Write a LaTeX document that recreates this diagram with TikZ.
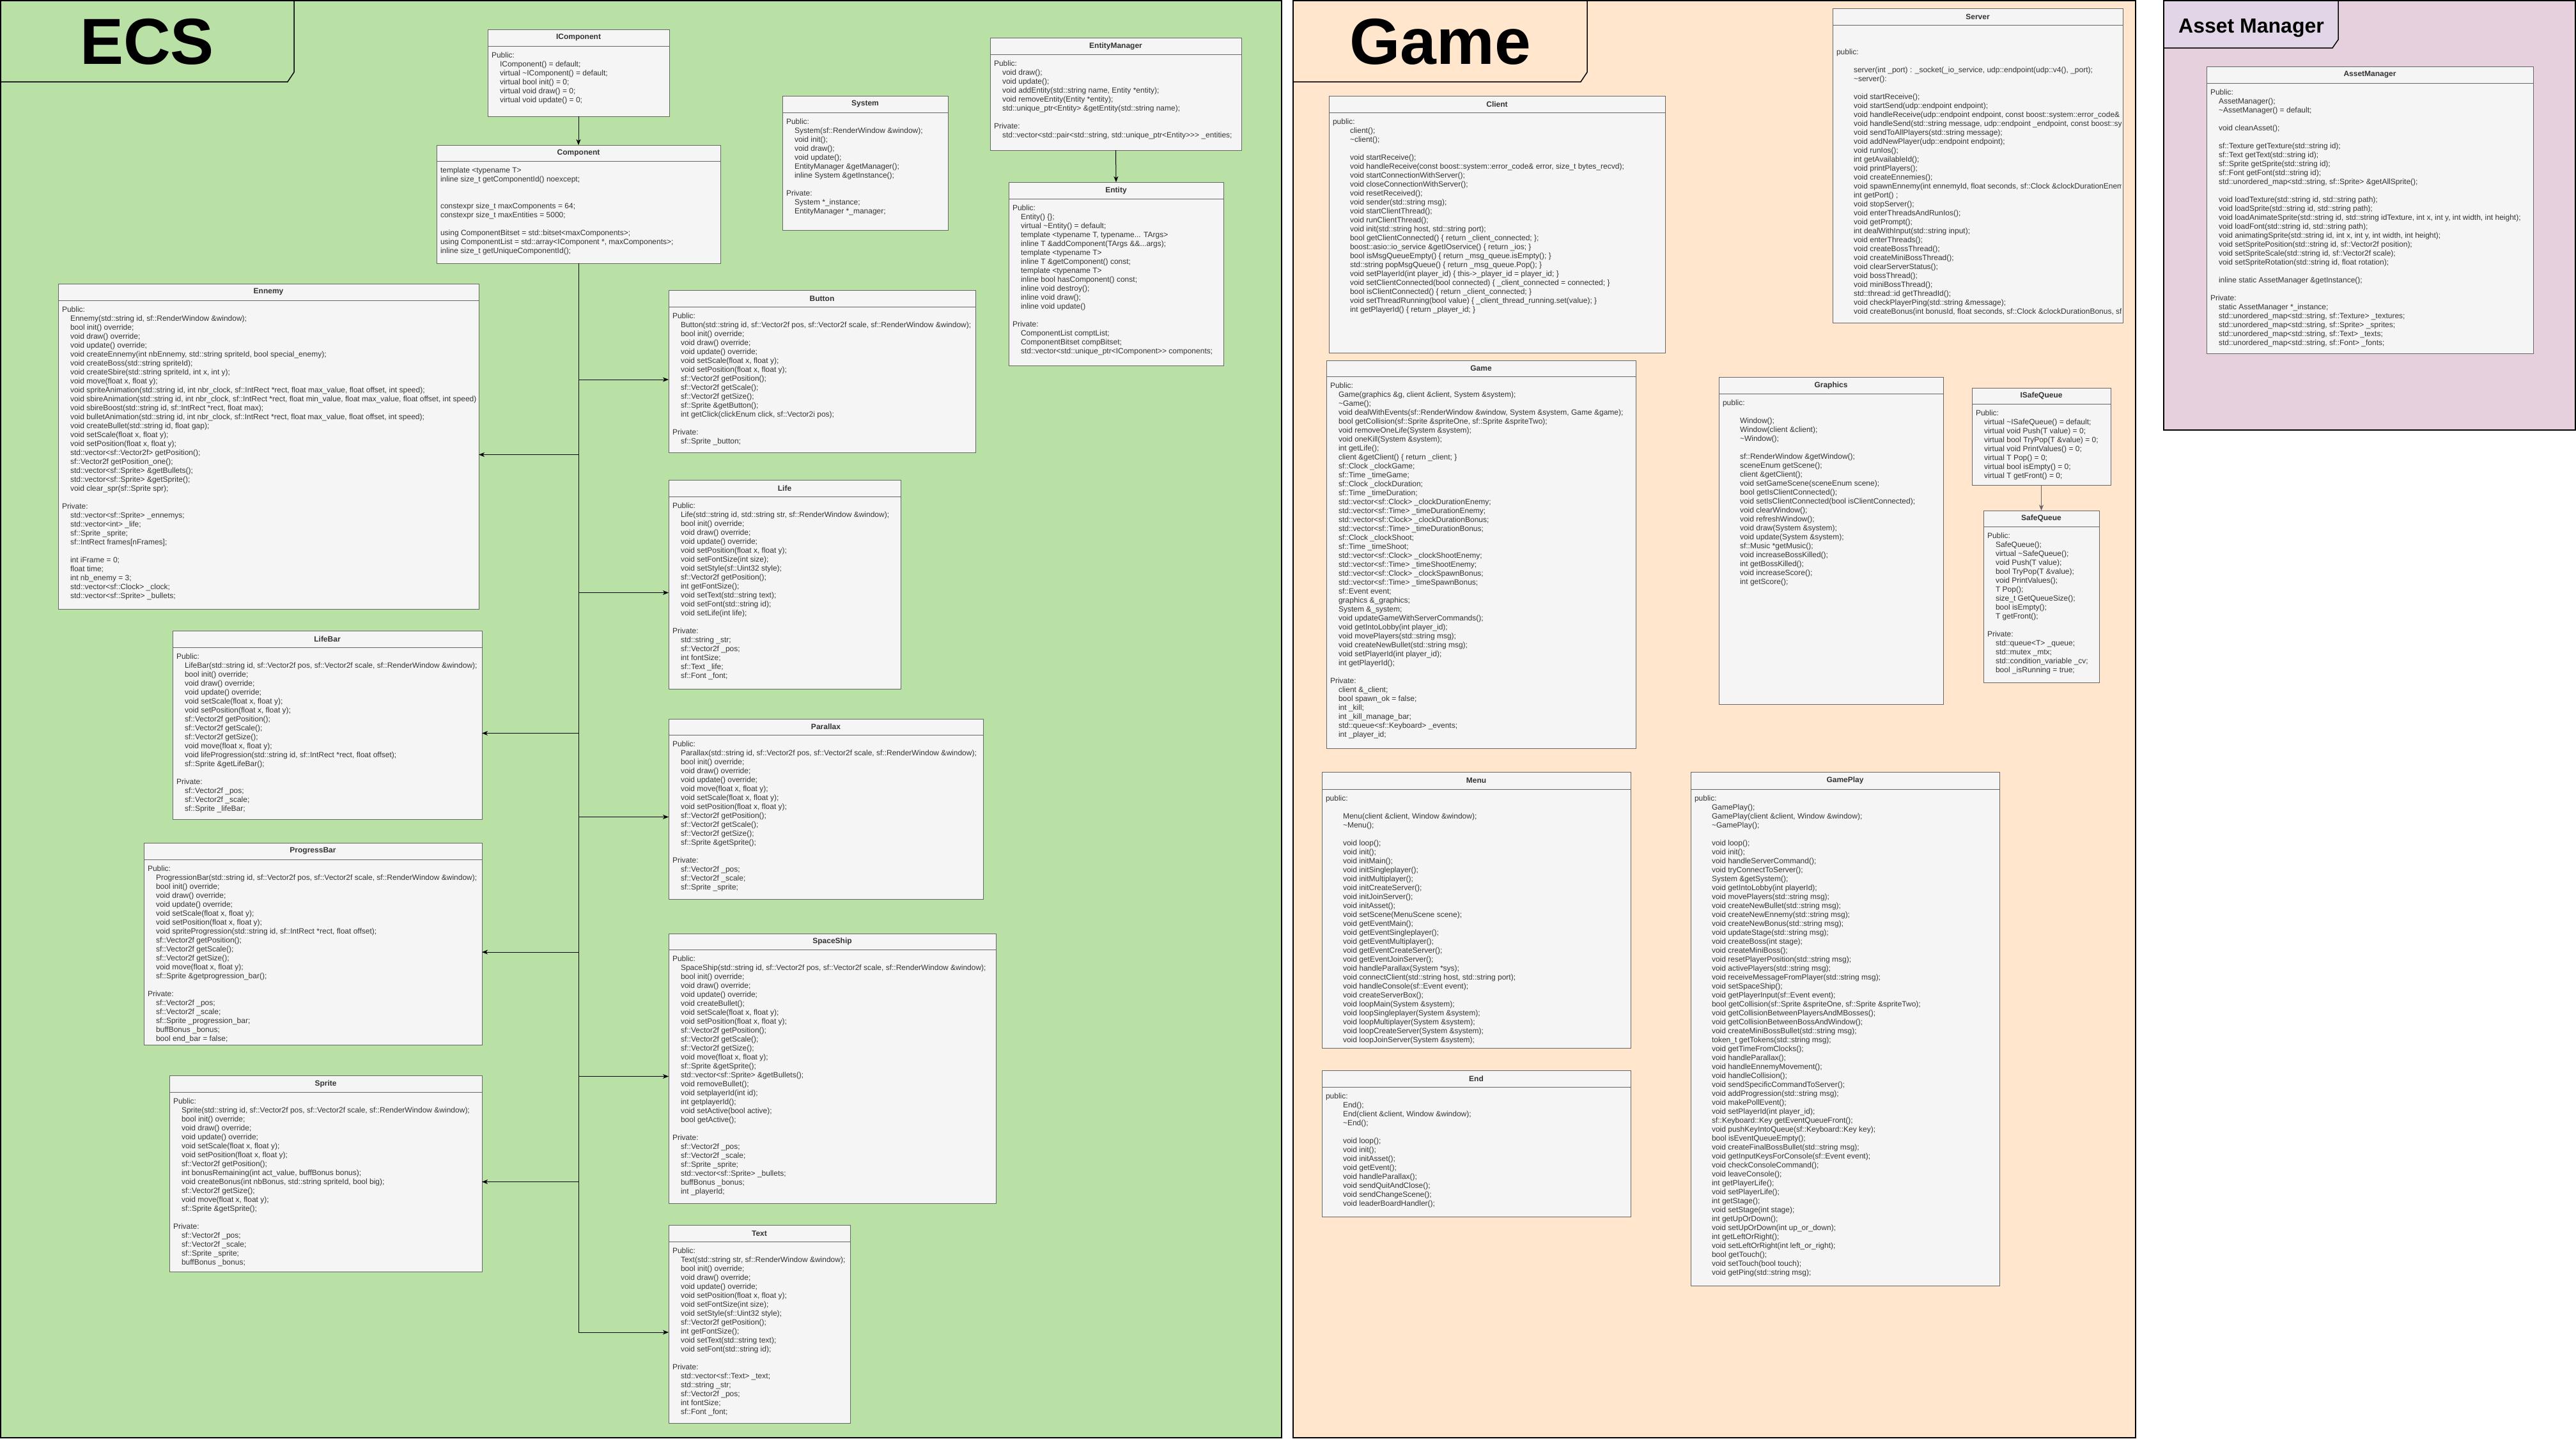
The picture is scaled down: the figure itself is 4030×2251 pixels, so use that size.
\documentclass[tikz,border=0pt]{standalone}
\usepackage{fontspec}
\setmainfont{Liberation Sans}
\usetikzlibrary{arrows.meta}
\definecolor{ecsg}{HTML}{B9E0A5}
\definecolor{gameo}{HTML}{FFE6CC}
\definecolor{assetp}{HTML}{E6D0DE}
\definecolor{assett}{HTML}{E1D5E7}
\definecolor{boxf}{HTML}{F5F5F5}
\definecolor{boxd}{HTML}{666666}
\definecolor{txtc}{HTML}{333333}
\newcommand\ia{\hspace*{13pt}}
\newcommand\ib{\hspace*{27pt}}
\newcommand\tld{\textasciitilde}
\tikzset{
  clsbox/.style={draw=boxd, fill=boxf, line width=1pt, inner sep=0pt, outer sep=0pt},
  hdrtxt/.style={font=\bfseries\fontsize{12}{14}\selectfont, text=txtc},
  bodytxt/.style={anchor=north west, inner sep=0pt, outer sep=0pt, align=left, font=\fontsize{12}{14}\selectfont, text=txtc},
  panel/.style={draw=black, line width=1.5pt},
  bigtitle/.style={font=\bfseries\fontsize{102}{110}\selectfont, text=black, inner sep=0pt},
  arr/.style={-{Stealth[length=9pt,width=7pt,inset=2.5pt]}, line width=1pt, draw=black},
  arrgray/.style={-{Stealth[length=9pt,width=7pt,inset=2.5pt]}, line width=1pt, draw=boxd, fill=boxd},
}
% #1 name, #2 x1, #3 y1, #4 x2, #5 y2, #6 header bottom, #7 title, #8 body
\newcommand\cls[8]{%
  \pgfmathsetmacro\qqw{#4-#2}\pgfmathsetmacro\qqh{#6-#3}\pgfmathsetmacro\qqb{#5-#6}%
  \pgfmathsetmacro\qqx{(#2+#4)/2}\pgfmathsetmacro\qqy{(#3+#6)/2}\pgfmathsetmacro\qqz{(#6+#5)/2}%
  \node[clsbox, hdrtxt, minimum width=\qqw pt, minimum height=\qqh pt] (#1h) at (\qqx,\qqy) {#7};
  \node[clsbox, minimum width=\qqw pt, minimum height=\qqb pt] (#1) at (\qqx,\qqz) {};
  \begin{scope}
    \clip (#2,#6) rectangle (#4-3,#5);
    \node[bodytxt] (#1t) at (#2+6,#6+8.5) {\strut#8};
  \end{scope}
}
\begin{document}
\begin{tikzpicture}[x=1pt,y=-1pt]
\useasboundingbox (0,0) rectangle (4030,2251);
% panels
\draw[panel, fill=ecsg] (1,1) rectangle (2005,2250);
\draw[panel, fill=gameo] (2023,1) rectangle (3341,2250);
\draw[panel, fill=assetp] (3385,1) rectangle (4029,673);
\draw[panel, fill=ecsg] (1,1) -- (460,1) -- (460,113) -- (450,128) -- (1,128) -- cycle;
\draw[panel, fill=gameo] (2023,1) -- (2483,1) -- (2483,113) -- (2473,128) -- (2023,128) -- cycle;
\draw[panel, fill=assett] (3385,1) -- (3658,1) -- (3658,62) -- (3649,75) -- (3385,75) -- cycle;
\node[bigtitle, anchor=base] (ecstitle) at (230,100) {ECS};
\node[bigtitle, anchor=base] (gametitle) at (2253,100) {Game};
\node[font=\bfseries\fontsize{32}{36}\selectfont, inner sep=0pt, anchor=base west] (assettitle) at (3408,51) {Asset Manager};

% ECS classes
\cls{icomp}{763}{46}{1047}{182}{72}{IComponent}{Public:\\
\ia IComponent() = default;\\
\ia virtual \tld IComponent() = default;\\
\ia virtual bool init() = 0;\\
\ia virtual void draw() = 0;\\
\ia virtual void update() = 0;}

\cls{comp}{683}{227}{1127}{412}{252}{Component}{template <typename T>\\
inline size\_t getComponentId() noexcept;\\
\strut\\
\strut\\
constexpr size\_t maxComponents = 64;\\
constexpr size\_t maxEntities = 5000;\\
\strut\\
using ComponentBitset = std::bitset<maxComponents>;\\
using ComponentList = std::array<IComponent *, maxComponents>;\\
inline size\_t getUniqueComponentId();}

\cls{sys}{1224}{150}{1483}{360}{176}{System}{Public:\\
\ia System(sf::RenderWindow \&window);\\
\ia void init();\\
\ia void draw();\\
\ia void update();\\
\ia EntityManager \&getManager();\\
\ia inline System \&getInstance();\\
\strut\\
Private:\\
\ia System *\_instance;\\
\ia EntityManager *\_manager;}

\cls{emgr}{1549}{59}{1942}{235}{85}{EntityManager}{Public:\\
\ia void draw();\\
\ia void update();\\
\ia void addEntity(std::string name, Entity *entity);\\
\ia void removeEntity(Entity *entity);\\
\ia std::unique\_ptr<Entity> \&getEntity(std::string name);\\
\strut\\
Private:\\
\ia std::vector<std::pair<std::string, std::unique\_ptr<Entity>\kern0pt>\kern0pt> \_entities;}

\cls{ent}{1578}{285}{1914}{572}{311}{Entity}{Public:\\
\ia Entity() \{\};\\
\ia virtual \tld Entity() = default;\\
\ia template <typename T, typename... TArgs>\\
\ia inline T \&addComponent(TArgs \&\&...args);\\
\ia template <typename T>\\
\ia inline T \&getComponent() const;\\
\ia template <typename T>\\
\ia inline bool hasComponent() const;\\
\ia inline void destroy();\\
\ia inline void draw();\\
\ia inline void update()\\
\strut\\
Private:\\
\ia ComponentList comptList;\\
\ia ComponentBitset compBitset;\\
\ia std::vector<std::unique\_ptr<IComponent>\kern0pt> components;}

\cls{enn}{91}{444}{749}{953}{470}{Ennemy}{Public:\\
\ia Ennemy(std::string id, sf::RenderWindow \&window);\\
\ia bool init() override;\\
\ia void draw() override;\\
\ia void update() override;\\
\ia void createEnnemy(int nbEnnemy, std::string spriteId, bool special\_enemy);\\
\ia void createBoss(std::string spriteId);\\
\ia void createSbire(std::string spriteId, int x, int y);\\
\ia void move(float x, float y);\\
\ia void spriteAnimation(std::string id, int nbr\_clock, sf::IntRect *rect, float max\_value, float offset, int speed);\\
\ia void sbireAnimation(std::string id, int nbr\_clock, sf::IntRect *rect, float min\_value, float max\_value, float offset, int speed)\\
\ia void sbireBoost(std::string id, sf::IntRect *rect, float max);\\
\ia void bulletAnimation(std::string id, int nbr\_clock, sf::IntRect *rect, float max\_value, float offset, int speed);\\
\ia void createBullet(std::string id, float gap);\\
\ia void setScale(float x, float y);\\
\ia void setPosition(float x, float y);\\
\ia std::vector<sf::Vector2f> getPosition();\\
\ia sf::Vector2f getPosition\_one();\\
\ia std::vector<sf::Sprite> \&getBullets();\\
\ia std::vector<sf::Sprite> \&getSprite();\\
\ia void clear\_spr(sf::Sprite spr);\\
\strut\\
Private:\\
\ia std::vector<sf::Sprite> \_ennemys;\\
\ia std::vector<int> \_life;\\
\ia sf::Sprite \_sprite;\\
\ia sf::IntRect frames[nFrames];\\
\strut\\
\ia int iFrame = 0;\\
\ia float time;\\
\ia int nb\_enemy = 3;\\
\ia std::vector<sf::Clock> \_clock;\\
\ia std::vector<sf::Sprite> \_bullets;}

\cls{btn}{1046}{454}{1526}{708}{480}{Button}{Public:\\
\ia Button(std::string id, sf::Vector2f pos, sf::Vector2f scale, sf::RenderWindow \&window);\\
\ia bool init() override;\\
\ia void draw() override;\\
\ia void update() override;\\
\ia void setScale(float x, float y);\\
\ia void setPosition(float x, float y);\\
\ia sf::Vector2f getPosition();\\
\ia sf::Vector2f getScale();\\
\ia sf::Vector2f getSize();\\
\ia sf::Sprite \&getButton();\\
\ia int getClick(clickEnum click, sf::Vector2i pos);\\
\strut\\
Private:\\
\ia sf::Sprite \_button;}

\cls{life}{1046}{751}{1409}{1078}{777}{Life}{Public:\\
\ia Life(std::string id, std::string str, sf::RenderWindow \&window);\\
\ia bool init() override;\\
\ia void draw() override;\\
\ia void update() override;\\
\ia void setPosition(float x, float y);\\
\ia void setFontSize(int size);\\
\ia void setStyle(sf::Uint32 style);\\
\ia sf::Vector2f getPosition();\\
\ia int getFontSize();\\
\ia void setText(std::string text);\\
\ia void setFont(std::string id);\\
\ia void setLife(int life);\\
\strut\\
Private:\\
\ia std::string \_str;\\
\ia sf::Vector2f \_pos;\\
\ia int fontSize;\\
\ia sf::Text \_life;\\
\ia sf::Font \_font;}

\cls{plx}{1046}{1125}{1538}{1407}{1150}{Parallax}{Public:\\
\ia Parallax(std::string id, sf::Vector2f pos, sf::Vector2f scale, sf::RenderWindow \&window);\\
\ia bool init() override;\\
\ia void draw() override;\\
\ia void update() override;\\
\ia void move(float x, float y);\\
\ia void setScale(float x, float y);\\
\ia void setPosition(float x, float y);\\
\ia sf::Vector2f getPosition();\\
\ia sf::Vector2f getScale();\\
\ia sf::Vector2f getSize();\\
\ia sf::Sprite \&getSprite();\\
\strut\\
Private:\\
\ia sf::Vector2f \_pos;\\
\ia sf::Vector2f \_scale;\\
\ia sf::Sprite \_sprite;}

\cls{ship}{1046}{1461}{1558}{1883}{1486}{SpaceShip}{Public:\\
\ia SpaceShip(std::string id, sf::Vector2f pos, sf::Vector2f scale, sf::RenderWindow \&window);\\
\ia bool init() override;\\
\ia void draw() override;\\
\ia void update() override;\\
\ia void createBullet();\\
\ia void setScale(float x, float y);\\
\ia void setPosition(float x, float y);\\
\ia sf::Vector2f getPosition();\\
\ia sf::Vector2f getScale();\\
\ia sf::Vector2f getSize();\\
\ia void move(float x, float y);\\
\ia sf::Sprite \&getSprite();\\
\ia std::vector<sf::Sprite> \&getBullets();\\
\ia void removeBullet();\\
\ia void setplayerId(int id);\\
\ia int getplayerId();\\
\ia void setActive(bool active);\\
\ia bool getActive();\\
\strut\\
Private:\\
\ia sf::Vector2f \_pos;\\
\ia sf::Vector2f \_scale;\\
\ia sf::Sprite \_sprite;\\
\ia std::vector<sf::Sprite> \_bullets;\\
\ia buffBonus \_bonus;\\
\ia int \_playerId;}

\cls{text}{1046}{1917}{1330}{2227}{1943}{Text}{Public:\\
\ia Text(std::string str, sf::RenderWindow \&window);\\
\ia bool init() override;\\
\ia void draw() override;\\
\ia void update() override;\\
\ia void setPosition(float x, float y);\\
\ia void setFontSize(int size);\\
\ia void setStyle(sf::Uint32 style);\\
\ia sf::Vector2f getPosition();\\
\ia int getFontSize();\\
\ia void setText(std::string text);\\
\ia void setFont(std::string id);\\
\strut\\
Private:\\
\ia std::vector<sf::Text> \_text;\\
\ia std::string \_str;\\
\ia sf::Vector2f \_pos;\\
\ia int fontSize;\\
\ia sf::Font \_font;}

\cls{lbar}{270}{987}{754}{1282}{1013}{LifeBar}{Public:\\
\ia LifeBar(std::string id, sf::Vector2f pos, sf::Vector2f scale, sf::RenderWindow \&window);\\
\ia bool init() override;\\
\ia void draw() override;\\
\ia void update() override;\\
\ia void setScale(float x, float y);\\
\ia void setPosition(float x, float y);\\
\ia sf::Vector2f getPosition();\\
\ia sf::Vector2f getScale();\\
\ia sf::Vector2f getSize();\\
\ia void move(float x, float y);\\
\ia void lifeProgression(std::string id, sf::IntRect *rect, float offset);\\
\ia sf::Sprite \&getLifeBar();\\
\strut\\
Private:\\
\ia sf::Vector2f \_pos;\\
\ia sf::Vector2f \_scale;\\
\ia sf::Sprite \_lifeBar;}

\cls{pbar}{225}{1319}{754}{1635}{1345}{ProgressBar}{Public:\\
\ia ProgressionBar(std::string id, sf::Vector2f pos, sf::Vector2f scale, sf::RenderWindow \&window);\\
\ia bool init() override;\\
\ia void draw() override;\\
\ia void update() override;\\
\ia void setScale(float x, float y);\\
\ia void setPosition(float x, float y);\\
\ia void spriteProgression(std::string id, sf::IntRect *rect, float offset);\\
\ia sf::Vector2f getPosition();\\
\ia sf::Vector2f getScale();\\
\ia sf::Vector2f getSize();\\
\ia void move(float x, float y);\\
\ia sf::Sprite \&getprogression\_bar();\\
\strut\\
Private:\\
\ia sf::Vector2f \_pos;\\
\ia sf::Vector2f \_scale;\\
\ia sf::Sprite \_progression\_bar;\\
\ia buffBonus \_bonus;\\
\ia bool end\_bar = false;}

\cls{spr}{265}{1683}{754}{1990}{1709}{Sprite}{Public:\\
\ia Sprite(std::string id, sf::Vector2f pos, sf::Vector2f scale, sf::RenderWindow \&window);\\
\ia bool init() override;\\
\ia void draw() override;\\
\ia void update() override;\\
\ia void setScale(float x, float y);\\
\ia void setPosition(float x, float y);\\
\ia sf::Vector2f getPosition();\\
\ia int bonusRemaining(int act\_value, buffBonus bonus);\\
\ia void createBonus(int nbBonus, std::string spriteId, bool big);\\
\ia sf::Vector2f getSize();\\
\ia void move(float x, float y);\\
\ia sf::Sprite \&getSprite();\\
\strut\\
Private:\\
\ia sf::Vector2f \_pos;\\
\ia sf::Vector2f \_scale;\\
\ia sf::Sprite \_sprite;\\
\ia buffBonus \_bonus;}

% Game classes
\cls{cli}{2079}{150}{2605}{552}{176}{Client}{public:\\
\ib client();\\
\ib \tld client();\\
\strut\\
\ib void startReceive();\\
\ib void handleReceive(const boost::system::error\_code\& error, size\_t bytes\_recvd);\\
\ib void startConnectionWithServer();\\
\ib void closeConnectionWithServer();\\
\ib void resetReceived();\\
\ib void sender(std::string msg);\\
\ib void startClientThread();\\
\ib void runClientThread();\\
\ib void init(std::string host, std::string port);\\
\ib bool getClientConnected() \{ return \_client\_connected; \};\\
\ib boost::asio::io\_service \&getIOservice() \{ return \_ios; \}\\
\ib bool isMsgQueueEmpty() \{ return \_msg\_queue.isEmpty(); \}\\
\ib std::string popMsgQueue() \{ return \_msg\_queue.Pop(); \}\\
\ib void setPlayerId(int player\_id) \{ this->\_player\_id = player\_id; \}\\
\ib void setClientConnected(bool connected) \{ \_client\_connected = connected; \}\\
\ib bool isClientConnected() \{ return \_client\_connected; \}\\
\ib void setThreadRunning(bool value) \{ \_client\_thread\_running.set(value); \}\\
\ib int getPlayerId() \{ return \_player\_id; \}}

\cls{game}{2075}{564}{2559}{1171}{589}{Game}{Public:\\
\ia Game(graphics \&g, client \&client, System \&system);\\
\ia \tld Game();\\
\ia void dealWithEvents(sf::RenderWindow \&window, System \&system, Game \&game);\\
\ia bool getCollision(sf::Sprite \&spriteOne, sf::Sprite \&spriteTwo);\\
\ia void removeOneLife(System \&system);\\
\ia void oneKill(System \&system);\\
\ia int getLife();\\
\ia client \&getClient() \{ return \_client; \}\\
\ia sf::Clock \_clockGame;\\
\ia sf::Time \_timeGame;\\
\ia sf::Clock \_clockDuration;\\
\ia sf::Time \_timeDuration;\\
\ia std::vector<sf::Clock> \_clockDurationEnemy;\\
\ia std::vector<sf::Time> \_timeDurationEnemy;\\
\ia std::vector<sf::Clock> \_clockDurationBonus;\\
\ia std::vector<sf::Time> \_timeDurationBonus;\\
\ia sf::Clock \_clockShoot;\\
\ia sf::Time \_timeShoot;\\
\ia std::vector<sf::Clock> \_clockShootEnemy;\\
\ia std::vector<sf::Time> \_timeShootEnemy;\\
\ia std::vector<sf::Clock> \_clockSpawnBonus;\\
\ia std::vector<sf::Time> \_timeSpawnBonus;\\
\ia sf::Event event;\\
\ia graphics \&\_graphics;\\
\ia System \&\_system;\\
\ia void updateGameWithServerCommands();\\
\ia void getIntoLobby(int player\_id);\\
\ia void movePlayers(std::string msg);\\
\ia void createNewBullet(std::string msg);\\
\ia void setPlayerId(int player\_id);\\
\ia int getPlayerId();\\
\strut\\
Private:\\
\ia client \&\_client;\\
\ia bool spawn\_ok = false;\\
\ia int \_kill;\\
\ia int \_kill\_manage\_bar;\\
\ia std::queue<sf::Keyboard> \_events;\\
\ia int \_player\_id;}

\cls{srv}{2867}{13}{3321}{505}{39}{Server}{\strut\\
\strut\\
public:\\
\strut\\
\ib server(int \_port) : \_socket(\_io\_service, udp::endpoint(udp::v4(), \_port);\\
\ib \tld server():\\
\strut\\
\ib void startReceive();\\
\ib void startSend(udp::endpoint endpoint);\\
\ib void handleReceive(udp::endpoint endpoint, const boost::system::error\_code\& error, std::size\_t bytes\_transferred);\\
\ib void handleSend(std::string message, udp::endpoint \_endpoint, const boost::system::error\_code\& error);\\
\ib void sendToAllPlayers(std::string message);\\
\ib void addNewPlayer(udp::endpoint endpoint);\\
\ib void runIos();\\
\ib int getAvailableId();\\
\ib void printPlayers();\\
\ib void createEnnemies();\\
\ib void spawnEnnemy(int ennemyId, float seconds, sf::Clock \&clockDurationEnemy, sf::Time \&timeDurationEnemy);\\
\ib int getPort() ;\\
\ib void stopServer();\\
\ib void enterThreadsAndRunIos();\\
\ib void getPrompt();\\
\ib int dealWithInput(std::string input);\\
\ib void enterThreads();\\
\ib void createBossThread();\\
\ib void createMiniBossThread();\\
\ib void clearServerStatus();\\
\ib void bossThread();\\
\ib void miniBossThread();\\
\ib std::thread::id getThreadId();\\
\ib void checkPlayerPing(std::string \&message);\\
\ib void createBonus(int bonusId, float seconds, sf::Clock \&clockDurationBonus, sf::Time \&timeDurationBonus);}

\cls{gfx}{2689}{590}{3040}{1102}{616}{Graphics}{public:\\
\strut\\
\ib Window();\\
\ib Window(client \&client);\\
\ib \tld Window();\\
\strut\\
\ib sf::RenderWindow \&getWindow();\\
\ib sceneEnum getScene();\\
\ib client \&getClient();\\
\ib void setGameScene(sceneEnum scene);\\
\ib bool getIsClientConnected();\\
\ib void setIsClientConnected(bool isClientConnected);\\
\ib void clearWindow();\\
\ib void refreshWindow();\\
\ib void draw(System \&system);\\
\ib void update(System \&system);\\
\ib sf::Music *getMusic();\\
\ib void increaseBossKilled();\\
\ib int getBossKilled();\\
\ib void increaseScore();\\
\ib int getScore();}

\cls{isq}{3085}{607}{3302}{759}{632}{ISafeQueue}{Public:\\
\ia virtual \tld ISafeQueue() = default;\\
\ia virtual void Push(T value) = 0;\\
\ia virtual bool TryPop(T \&value) = 0;\\
\ia virtual void PrintValues() = 0;\\
\ia virtual T Pop() = 0;\\
\ia virtual bool isEmpty() = 0;\\
\ia virtual T getFront() = 0;}

\cls{sq}{3103}{799}{3284}{1068}{824}{SafeQueue}{Public:\\
\ia SafeQueue();\\
\ia virtual \tld SafeQueue();\\
\ia void Push(T value);\\
\ia bool TryPop(T \&value);\\
\ia void PrintValues();\\
\ia T Pop();\\
\ia size\_t GetQueueSize();\\
\ia bool isEmpty();\\
\ia T getFront();\\
\strut\\
Private:\\
\ia std::queue<T> \_queue;\\
\ia std::mutex \_mtx;\\
\ia std::condition\_variable \_cv;\\
\ia bool \_isRunning = true;}

\cls{menu}{2068}{1208}{2551}{1640}{1235}{Menu}{public:\\
\strut\\
\ib Menu(client \&client, Window \&window);\\
\ib \tld Menu();\\
\strut\\
\ib void loop();\\
\ib void init();\\
\ib void initMain();\\
\ib void initSingleplayer();\\
\ib void initMultiplayer();\\
\ib void initCreateServer();\\
\ib void initJoinServer();\\
\ib void initAsset();\\
\ib void setScene(MenuScene scene);\\
\ib void getEventMain();\\
\ib void getEventSingleplayer();\\
\ib void getEventMultiplayer();\\
\ib void getEventCreateServer();\\
\ib void getEventJoinServer();\\
\ib void handleParallax(System *sys);\\
\ib void connectClient(std::string host, std::string port);\\
\ib void handleConsole(sf::Event event);\\
\ib void createServerBox();\\
\ib void loopMain(System \&system);\\
\ib void loopSingleplayer(System \&system);\\
\ib void loopMultiplayer(System \&system);\\
\ib void loopCreateServer(System \&system);\\
\ib void loopJoinServer(System \&system);}

\cls{endc}{2068}{1675}{2551}{1904}{1701}{End}{public:\\
\ib End();\\
\ib End(client \&client, Window \&window);\\
\ib \tld End();\\
\strut\\
\ib void loop();\\
\ib void init();\\
\ib void initAsset();\\
\ib void getEvent();\\
\ib void handleParallax();\\
\ib void sendQuitAndClose();\\
\ib void sendChangeScene();\\
\ib void leaderBoardHandler();}

\cls{gp}{2645}{1208}{3128}{2012}{1235}{GamePlay}{public:\\
\ib GamePlay();\\
\ib GamePlay(client \&client, Window \&window);\\
\ib \tld GamePlay();\\
\strut\\
\ib void loop();\\
\ib void init();\\
\ib void handleServerCommand();\\
\ib void tryConnectToServer();\\
\ib System \&getSystem();\\
\ib void getIntoLobby(int playerId);\\
\ib void movePlayers(std::string msg);\\
\ib void createNewBullet(std::string msg);\\
\ib void createNewEnnemy(std::string msg);\\
\ib void createNewBonus(std::string msg);\\
\ib void updateStage(std::string msg);\\
\ib void createBoss(int stage);\\
\ib void createMiniBoss();\\
\ib void resetPlayerPosition(std::string msg);\\
\ib void activePlayers(std::string msg);\\
\ib void receiveMessageFromPlayer(std::string msg);\\
\ib void setSpaceShip();\\
\ib void getPlayerInput(sf::Event event);\\
\ib bool getCollision(sf::Sprite \&spriteOne, sf::Sprite \&spriteTwo);\\
\ib void getCollisionBetweenPlayersAndMBosses();\\
\ib void getCollisionBetweenBossAndWindow();\\
\ib void createMiniBossBullet(std::string msg);\\
\ib token\_t getTokens(std::string msg);\\
\ib void getTimeFromClocks();\\
\ib void handleParallax();\\
\ib void handleEnnemyMovement();\\
\ib void handleCollision();\\
\ib void sendSpecificCommandToServer();\\
\ib void addProgression(std::string msg);\\
\ib void makePollEvent();\\
\ib void setPlayerId(int player\_id);\\
\ib sf::Keyboard::Key getEventQueueFront();\\
\ib void pushKeyIntoQueue(sf::Keyboard::Key key);\\
\ib bool isEventQueueEmpty();\\
\ib void createFinalBossBullet(std::string msg);\\
\ib void getInputKeysForConsole(sf::Event event);\\
\ib void checkConsoleCommand();\\
\ib void leaveConsole();\\
\ib int getPlayerLife();\\
\ib void setPlayerLife();\\
\ib int getStage();\\
\ib void setStage(int stage);\\
\ib int getUpOrDown();\\
\ib void setUpOrDown(int up\_or\_down);\\
\ib int getLeftOrRight();\\
\ib void setLeftOrRight(int left\_or\_right);\\
\ib bool getTouch();\\
\ib void setTouch(bool touch);\\
\ib void getPing(std::string msg);}

% Asset manager
\cls{am}{3452}{104}{3963}{553}{130}{AssetManager}{Public:\\
\ia AssetManager();\\
\ia \tld AssetManager() = default;\\
\strut\\
\ia void cleanAsset();\\
\strut\\
\ia sf::Texture getTexture(std::string id);\\
\ia sf::Text getText(std::string id);\\
\ia sf::Sprite getSprite(std::string id);\\
\ia sf::Font getFont(std::string id);\\
\ia std::unordered\_map<std::string, sf::Sprite> \&getAllSprite();\\
\strut\\
\ia void loadTexture(std::string id, std::string path);\\
\ia void loadSprite(std::string id, std::string path);\\
\ia void loadAnimateSprite(std::string id, std::string idTexture, int x, int y, int width, int height);\\
\ia void loadFont(std::string id, std::string path);\\
\ia void animatingSprite(std::string id, int x, int y, int width, int height);\\
\ia void setSpritePosition(std::string id, sf::Vector2f position);\\
\ia void setSpriteScale(std::string id, sf::Vector2f scale);\\
\ia void setSpriteRotation(std::string id, float rotation);\\
\strut\\
\ia inline static AssetManager \&getInstance();\\
\strut\\
Private:\\
\ia static AssetManager *\_instance;\\
\ia std::unordered\_map<std::string, sf::Texture> \_textures;\\
\ia std::unordered\_map<std::string, sf::Sprite> \_sprites;\\
\ia std::unordered\_map<std::string, sf::Text> \_texts;\\
\ia std::unordered\_map<std::string, sf::Font> \_fonts;}

% connectors
\draw[arr] (icomp.south) -- (comph.north);
\draw[arr] (emgr.south) -- (enth.north);
\draw[arrgray] (isq.south) -- (sqh.north);
\draw[arr] (comp.south) |- (enn.east);
\draw[arr] (comp.south) |- (lbar.east);
\draw[arr] (comp.south) |- (pbar.east);
\draw[arr] (comp.south) |- (spr.east);
\draw[arr] (comp.south) |- (btn.west);
\draw[arr] (comp.south) |- (life.west);
\draw[arr] (comp.south) |- (plx.west);
\draw[arr] (comp.south) |- (ship.west);
\draw[arr] (comp.south) |- (text.west);
\end{tikzpicture}
\end{document}
